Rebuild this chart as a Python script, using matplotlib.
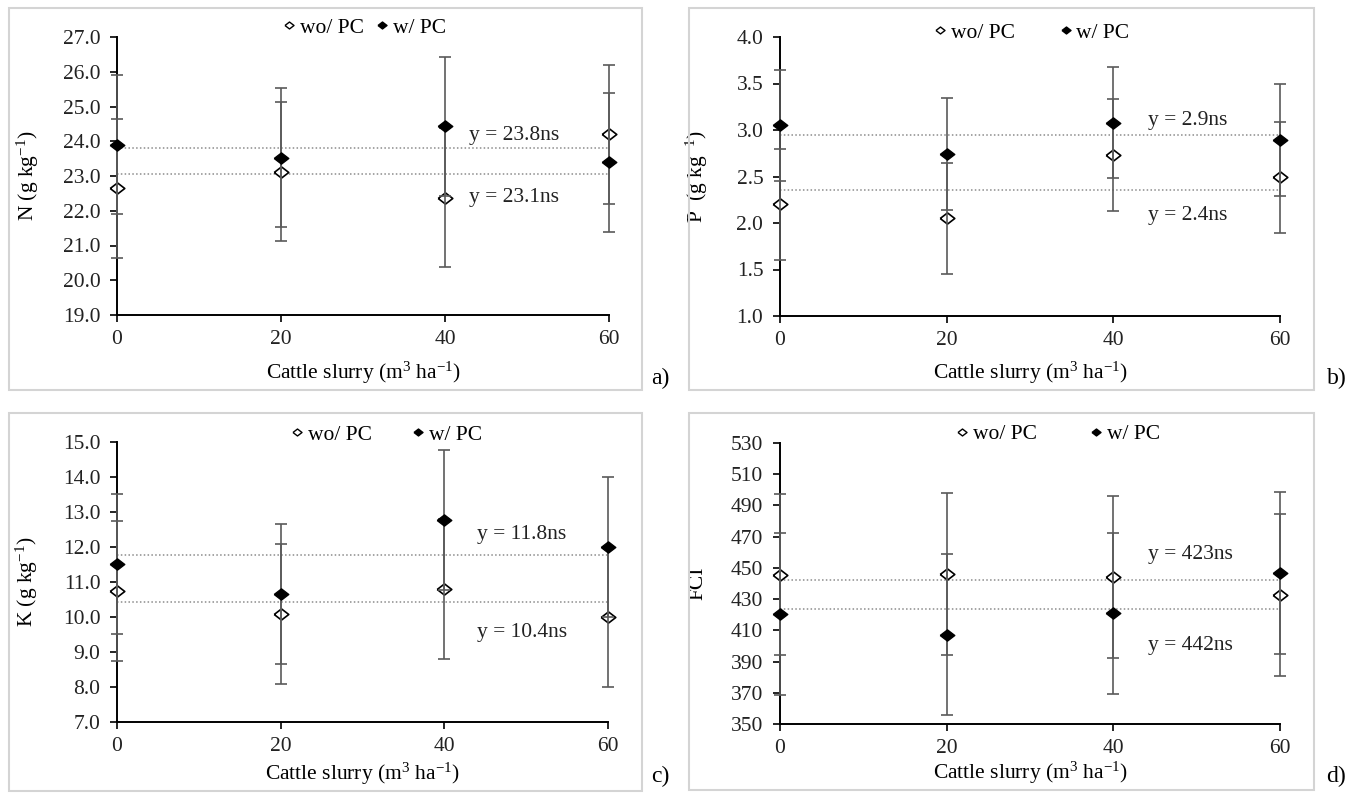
import numpy as np
import matplotlib
matplotlib.use('Agg')
from matplotlib import pyplot as plt
from matplotlib.lines import Line2D
from matplotlib.patches import Rectangle
from matplotlib.ticker import FormatStrFormatter

plt.rc('font', family='Liberation Serif', size=15.5)

# cattle slurry doses (m3/ha)
dose = [0, 20, 40, 60]

# a) N (g/kg)
n_wo = [22.65, 23.12, 22.37, 24.20]
n_w = [23.90, 23.53, 24.43, 23.40]
n_err = [2.0, 2.0, 2.0, 2.0]
n_mean = [23.82, 23.06]
n_txt = ['y = 23.8ns', 'y = 23.1ns']

# b) P (g/kg)
p_wo = [2.20, 2.05, 2.73, 2.49]
p_w = [3.05, 2.74, 3.08, 2.89]
p_err = [0.6, 0.6, 0.6, 0.6]
p_mean = [2.945, 2.36]
p_txt = ['y = 2.9ns', 'y = 2.4ns']

# c) K (g/kg)
k_wo = [10.74, 10.09, 10.80, 10.00]
k_w = [11.52, 10.65, 12.78, 12.01]
k_err = [2.0, 2.0, 2.0, 2.0]
k_mean = [11.76, 10.42]
k_txt = ['y = 11.8ns', 'y = 10.4ns']

# d) FCI
f_wo = [445.7, 446.1, 444.2, 432.5]
f_w = [420.5, 407.2, 420.8, 446.8]
f_err = [51.7, 51.7, 51.7, 51.7]
f_mean = [442.0, 423.7]
f_txt = ['y = 423ns', 'y = 442ns']

W, H = 1355, 796
fig = plt.figure(figsize=(W / 100, H / 100), dpi=100)

# wide diamond (the source figure is stretched sideways)
diam = [(-1.3, 0), (0, 1), (1.3, 0), (0, -1), (-1.3, 0)]

panels = [
    dict(wo=n_wo, w=n_w, err=n_err, mean=n_mean, txt=n_txt, ylab='N (g kg$\\mathregular{^{-1}}$)',
         ylim=(19, 27), step=1.0, fmt='%.1f', ax=(117, 609, 37, 315), box=(9, 642, 8, 390),
         tag='a)', tagxy=(660, 378), leg=(364, 28), cs=0.5, tx=42.9, dy=(12, -24), ylx=28),
    dict(wo=p_wo, w=p_w, err=p_err, mean=p_mean, txt=p_txt, ylab='P  (g kg$\\mathregular{^{-1}}$)',
         ylim=(1, 4), step=0.5, fmt='%.1f', ax=(780, 1280, 37, 316), box=(689, 1314, 8, 390),
         tag='b)', tagxy=(1337, 378), leg=(1031, 33), cs=2.0, tx=44.2, dy=(15, -26), ylx=697),
    dict(wo=k_wo, w=k_w, err=k_err, mean=k_mean, txt=k_txt, ylab='K (g kg$\\mathregular{^{-1}}$)',
         ylim=(7, 15), step=1.0, fmt='%.1f', ax=(117, 608, 442, 722), box=(9, 642, 413, 791),
         tag='c)', tagxy=(660, 776), leg=(386, 435), cs=1.8, tx=44.0, dy=(21, -30), ylx=27),
    dict(wo=f_wo, w=f_w, err=f_err, mean=f_mean, txt=f_txt, ylab='FCI',
         ylim=(350, 530), step=20, fmt='%d', ax=(780, 1280, 443, 724), box=(689, 1314, 413, 790),
         tag='d)', tagxy=(1336, 776), leg=(1057, 434), cs=2.4, tx=44.1, dy=(26, -37), ylx=698),
]

for p in panels:
    l, r, t, b = p['ax']
    bl, br, bt, bb = p['box']
    fig.patches.append(Rectangle((bl / W, 1 - bb / H), (br - bl) / W, (bb - bt) / H,
                                 transform=fig.transFigure, fill=False,
                                 edgecolor='#d4d4d4', linewidth=1.5))
    ax = fig.add_axes([l / W, 1 - b / H, (r - l) / W, (b - t) / H])

    for v in p['mean']:
        ax.hlines(v, dose[0], dose[-1], colors='#8c8c8c', linestyles=(0, (1, 1.5)), linewidth=1.1, zorder=1)

    ax.plot(dose, p['wo'], ls='none', marker=diam, ms=10.5, mfc='white', mec='black',
            mew=1.2, clip_on=False, zorder=3)
    for vals in (p['wo'], p['w']):
        eb = ax.errorbar(dose, vals, yerr=p['err'], fmt='none', ecolor='#5a5a5a',
                         elinewidth=1.2, capsize=4.5, capthick=1.2, zorder=4)
        for art in list(eb.lines[1]) + list(eb.lines[2]):
            art.set_clip_on(False)
    ax.plot(dose, p['w'], ls='none', marker=diam, ms=10.5, mfc='black', mec='black',
            mew=1.0, clip_on=False, zorder=5)

    ax.set_xlim(dose[0], dose[-1])
    ax.set_ylim(*p['ylim'])
    ax.set_xticks(dose)
    ax.set_yticks(np.arange(p['ylim'][0], p['ylim'][1] + p['step'] / 2, p['step']))
    ax.yaxis.set_major_formatter(FormatStrFormatter(p['fmt']))
    ax.spines[['top', 'right']].set_visible(False)
    for s in ('left', 'bottom'):
        ax.spines[s].set_linewidth(1.4)
        ax.spines[s].set_color('black')
    ax.tick_params(direction='out', length=5, width=1.2, labelsize=15.5, labelcolor='#222222')
    ax.tick_params(axis='x', pad=6)
    ax.tick_params(axis='y', pad=7)

    ax.set_xlabel('Cattle slurry (m$\\mathregular{^3}$ ha$\\mathregular{^{-1}}$)', fontsize=15.5)
    ax.xaxis.set_label_coords(0.5, -(p['box'][3] - 17 - b) / (b - t))
    ax.xaxis.label.set_va('center')
    ax.set_ylabel(p['ylab'], fontsize=15.5)
    ax.yaxis.set_label_coords((p['ylx'] - l) / (r - l), 0.5)
    ax.yaxis.label.set_va('center')

    for v, s, d in zip(p['mean'], p['txt'], p['dy']):
        ax.annotate(s, xy=(p['tx'], v), xytext=(0, d), textcoords='offset pixels',
                    ha='left', va='center', fontsize=15.5, color='#222222')

    handles = [Line2D([], [], ls='none', marker=diam, ms=6.5, mfc='white', mec='black', mew=1.0),
               Line2D([], [], ls='none', marker=diam, ms=6.5, mfc='black', mec='black')]
    ax.legend(handles, ['wo/ PC', 'w/ PC'], loc='center', ncol=2, frameon=False,
              bbox_to_anchor=(p['leg'][0] / W, 1 - p['leg'][1] / H), bbox_transform=fig.transFigure,
              handlelength=0.7, handletextpad=0.15, columnspacing=p['cs'], fontsize=15.5,
              borderpad=0, borderaxespad=0)

    fig.text(p['tagxy'][0] / W, 1 - p['tagxy'][1] / H, p['tag'], fontsize=17,
             ha='center', va='center')

fig.savefig('out.png', dpi=100)
